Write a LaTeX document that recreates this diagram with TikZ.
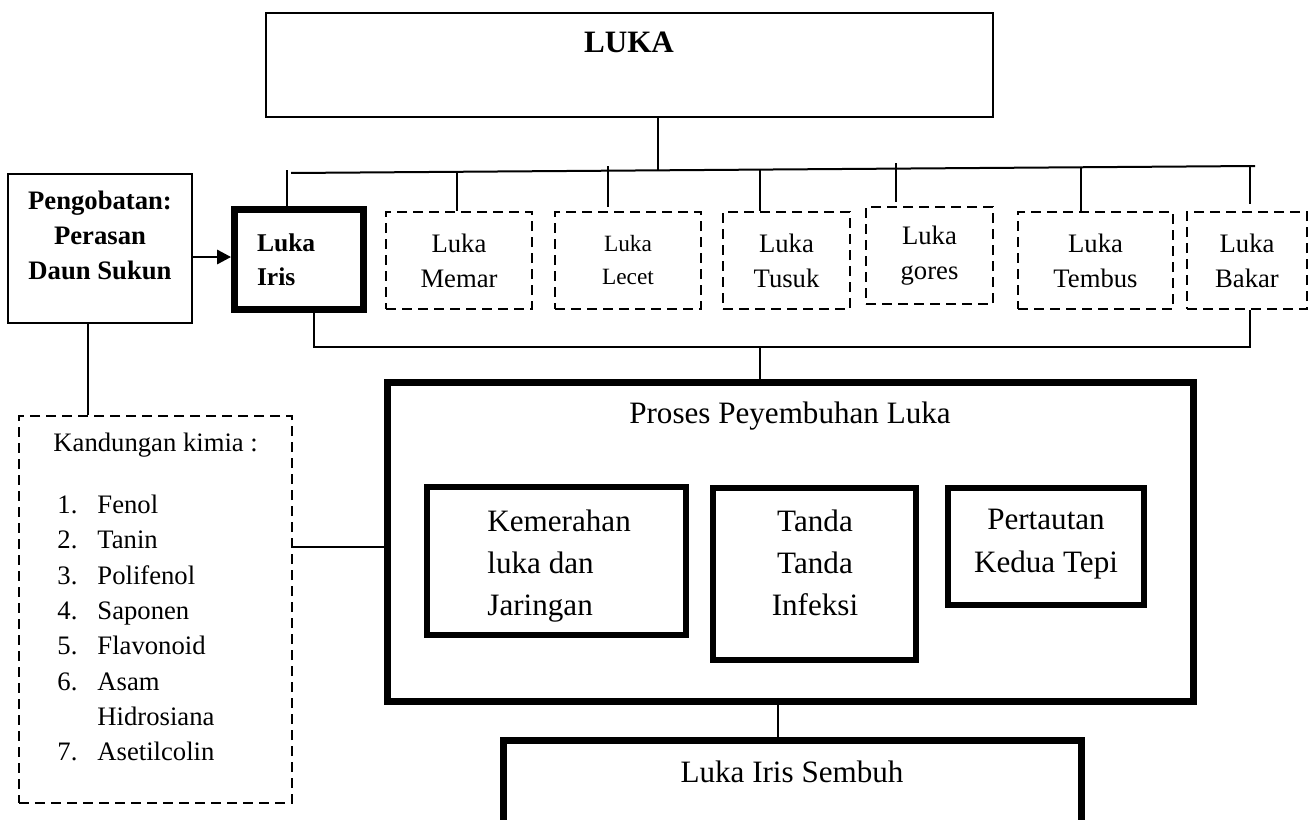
\documentclass[tikz,border=0pt]{standalone}
\usepackage{fontspec}
\setmainfont{Liberation Serif}
\usetikzlibrary{arrows.meta}

\begin{document}
\begin{tikzpicture}[x=0.45pt, y=-0.45pt,
    box/.style={draw, line width=0.9pt, shape=rectangle, inner sep=0pt},
    dbox/.style={draw, line width=0.9pt, dash pattern=on 4.5pt off 2.7pt, shape=rectangle, inner sep=0pt, align=center, font=\fontsize{12}{15.75}\selectfont},
    tbox/.style={draw, line width=2.7pt, shape=rectangle, inner sep=0pt},
    txt/.style={inner sep=0pt},
    listtxt/.style={inner sep=0pt, anchor=base west, font=\fontsize{12}{15}\selectfont},
    conn/.style={line width=0.9pt}]

    \useasboundingbox (0,0) rectangle (1310,819);
    \clip (0,0) rectangle (1310,819);

    \node(luka)[box, minimum width=327.2pt, minimum height=46.8pt] at (629.5,65) {};
    \node(lukaT)[txt, anchor=base, font=\fontsize{14}{17}\selectfont\bfseries] at (629,53) {LUKA};

    \node(obat)[box, minimum width=82.8pt, minimum height=67.05pt] at (100,248.5) {};
    \node(obatT)[txt, anchor=north, align=center, font=\fontsize{12}{15.75}\selectfont\bfseries] at (100,191) {Pengobatan:\\Perasan\\Daun Sukun};

    \node(iris)[tbox, line width=3.15pt, minimum width=58.05pt, minimum height=45pt, text width=37.8pt, inner xsep=10.1pt, align=left, font=\fontsize{11.5}{15.3}\selectfont\bfseries] at (299,259.5) {Luka\\Iris};

    \node(memar)[dbox, minimum width=65.7pt, minimum height=43.65pt] at (459,260.5) {Luka\\Memar};
    \node(lecet)[dbox, minimum width=65.7pt, minimum height=43.65pt, font=\fontsize{10.5}{14.85}\selectfont] at (628,260.5) {Luka\\Lecet};
    \node(tusuk)[dbox, minimum width=57.15pt, minimum height=43.65pt] at (786.5,260.5) {Luka\\Tusuk};
    \node(gores)[dbox, minimum width=57.15pt, minimum height=43.65pt] at (929.5,255.5) {Luka\\gores};
    \node(tembus)[dbox, minimum width=69.75pt, minimum height=43.65pt] at (1095.5,260.5) {Luka\\Tembus};
    \node(bakar)[dbox, minimum width=54pt, minimum height=43.65pt] at (1247,260.5) {Luka\\Bakar};

    \node(proses)[tbox, line width=3.15pt, minimum width=362.7pt, minimum height=143.55pt] at (790,541.5) {};
    \node(prosesT)[txt, anchor=base, font=\fontsize{14}{17}\selectfont] at (790,423) {Proses Peyembuhan Luka};

    \node(merah)[tbox, minimum width=116.55pt, minimum height=66.6pt] at (556.5,561) {};
    \node(merahT)[txt, anchor=north west, align=left, font=\fontsize{14}{19.1}\selectfont] at (487,509) {Kemerahan\\luka dan\\Jaringan};
    \node(tanda)[tbox, minimum width=91.35pt, minimum height=77.4pt] at (814.5,574) {};
    \node(tandaT)[txt, anchor=north, align=center, font=\fontsize{14}{19.1}\selectfont] at (815,509) {Tanda\\Tanda\\Infeksi};
    \node(taut)[tbox, minimum width=88.2pt, minimum height=52.65pt] at (1046,546.5) {};
    \node(tautT)[txt, anchor=north, align=center, font=\fontsize{14}{19.1}\selectfont] at (1046,509) {Pertautan\\Kedua Tepi};

    \node(sembuh)[tbox, line width=3.15pt, minimum width=260.1pt, minimum height=67.5pt] at (792,815) {};
    \node(sembuhT)[txt, anchor=base, font=\fontsize{14}{17}\selectfont] at (792,782) {Luka Iris Sembuh};

    \node(kimia)[dbox, minimum width=122.85pt, minimum height=174.15pt] at (155.5,609.5) {};
    \node(kimiaT)[listtxt] at (53,451) {Kandungan kimia :};
    \foreach \n/\zat/\yy in {1/Fenol/513, 2/Tanin/548, 3/Polifenol/584, 4/Saponen/619, 5/Flavonoid/654, 6/Asam/690, 7/Asetilcolin/760}
    {
        \node(no\n)[listtxt] at (57,\yy) {\n.};
        \node(zat\n)[listtxt] at (97,\yy) {\zat};
    }
    \node(zat6b)[listtxt] at (97,725) {Hidrosiana};

    \coordinate(busL) at (291,173);
    \coordinate(busR) at (1255,166);
    \coordinate(b0) at (658,170);
    \draw[conn] (busL) -- (busR);
    \draw[conn] (luka.south -| b0) -- (b0);

    \foreach \bx/\xx/\yy/\gap in {iris/287/170/0pt, memar/457/172/0pt, lecet/608/166/1.8pt, tusuk/760/170/0pt, gores/896/163/1.8pt, tembus/1081/167/0pt, bakar/1250/165/3.2pt}
    {
        \coordinate(t\bx) at (\xx,\yy);
        \draw[conn, shorten >=\gap] (t\bx) -- (t\bx |- \bx.north);
    }

    \coordinate(c1) at (314,347);
    \coordinate(c2) at (1250,347);
    \coordinate(c3) at (760,347);
    \draw[conn] (iris.south -| c1) -- (c1) -- (c2) -- (bakar.south -| c2);
    \draw[conn] (c3) -- (proses.north -| c3);

    \coordinate(c4) at (778,720);
    \draw[conn] (proses.south -| c4) -- (sembuh.north -| c4);

    \coordinate(c5) at (88,370);
    \draw[conn] (obat.south -| c5) -- (kimia.north -| c5);

    \coordinate(c6) at (210,257);
    \draw[conn, -{Triangle[length=6.3pt, width=6.5pt]}] (obat.east |- c6) -- (iris.west |- c6);

    \coordinate(c7) at (340,547);
    \draw[conn] (kimia.east |- c7) -- (proses.west |- c7);
\end{tikzpicture}
\end{document}
